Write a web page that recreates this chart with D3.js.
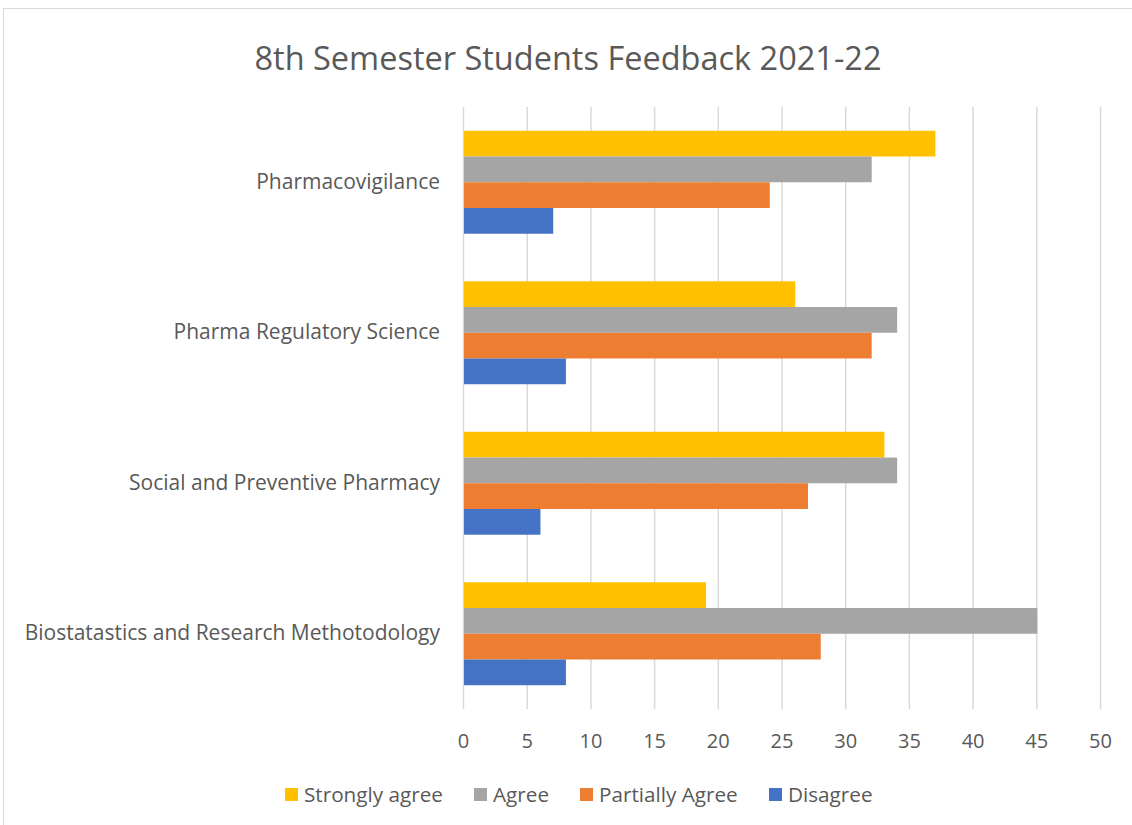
<!DOCTYPE html>
<html>
<head>
<meta charset="utf-8">
<script src="https://cdn.jsdelivr.net/npm/d3@7"></script>
<style>
  body { margin: 0; background: #fff; }
  svg { font-family: "Open Sans", Lato, sans-serif; }
</style>
</head>
<body>
<svg width="1132" height="825"></svg>
<script>
const categories = ["Pharmacovigilance", "Pharma Regulatory Science", "Social and Preventive Pharmacy", "Biostatastics and Research Methotodology"];
const seriesNames = ["Strongly agree", "Agree", "Partially Agree", "Disagree"];
const stronglyAgree = [37, 26, 33, 19];
const agree = [32, 34, 34, 45];
const partiallyAgree = [24, 32, 27, 28];
const disagree = [7, 8, 6, 8];
const xTicks = [0, 5, 10, 15, 20, 25, 30, 35, 40, 45, 50];
const colors = ["#FFC000", "#A5A5A5", "#ED7D31", "#4472C4"];

const seriesValues = [stronglyAgree, agree, partiallyAgree, disagree];
const rows = [];
categories.forEach((c, i) => {
  seriesNames.forEach((s, j) => rows.push({cat: c, series: s, value: seriesValues[j][i]}));
});

const svg = d3.select("svg");
const margin = {top: 107, right: 32, bottom: 116, left: 463};
const width = 1132 - margin.left - margin.right;
const height = 825 - margin.top - margin.bottom;

// chart border
svg.append("rect")
  .attr("x", 3.5).attr("y", 8.5)
  .attr("width", 1140).attr("height", 840)
  .attr("fill", "none").attr("stroke", "#D9D9D9");

svg.append("text")
  .attr("x", 568).attr("y", 70)
  .attr("text-anchor", "middle")
  .attr("fill", "#595959")
  .style("font-size", "32.5px")
  .text("8th Semester Students Feedback 2021-22");

const g = svg.append("g").attr("transform", `translate(${margin.left},${margin.top})`);

const x = d3.scaleLinear().domain([0, 50]).range([0, width]);
const y = d3.scaleBand().domain(categories).range([0, height]).paddingInner(0.316).paddingOuter(0.158);
const ySub = d3.scaleBand().domain(seriesNames).range([0, y.bandwidth()]);
const color = d3.scaleOrdinal().domain(seriesNames).range(colors);

// gridlines
g.selectAll(".grid")
  .data(xTicks)
  .join("line")
  .attr("x1", d => x(d) + 0.5).attr("x2", d => x(d) + 0.5)
  .attr("y1", 0).attr("y2", height)
  .attr("stroke", "#D9D9D9").attr("stroke-width", 1.5);

// bars
g.selectAll(".bar")
  .data(rows)
  .join("rect")
  .attr("x", x(0) + 1)
  .attr("y", d => y(d.cat) + ySub(d.series))
  .attr("width", d => x(d.value) - x(0))
  .attr("height", ySub.bandwidth())
  .attr("fill", d => color(d.series));

// x axis
const xAxis = g.append("g")
  .attr("transform", `translate(0,${height})`)
  .call(d3.axisBottom(x).tickValues(xTicks).tickSize(0).tickPadding(25));
xAxis.select(".domain").remove();
xAxis.selectAll("text").attr("fill", "#595959").style("font-size", "20px").style("font-family", "'Open Sans', sans-serif");

// y axis
const yAxis = g.append("g")
  .call(d3.axisLeft(y).tickSize(0).tickPadding(23));
yAxis.select(".domain").remove();
yAxis.selectAll("text").attr("fill", "#595959").style("font-size", "21px").style("font-family", "'Open Sans', sans-serif");

// legend
const legendX = [285, 474, 580, 769];
const legend = svg.append("g").attr("transform", "translate(0,802)");
seriesNames.forEach((s, i) => {
  legend.append("rect")
    .attr("x", legendX[i]).attr("y", -14)
    .attr("width", 13).attr("height", 13)
    .attr("fill", color(s));
  legend.append("text")
    .attr("x", legendX[i] + 19).attr("y", 0)
    .attr("fill", "#595959")
    .style("font-size", "20.7px")
    .text(s);
});
</script>
</body>
</html>
